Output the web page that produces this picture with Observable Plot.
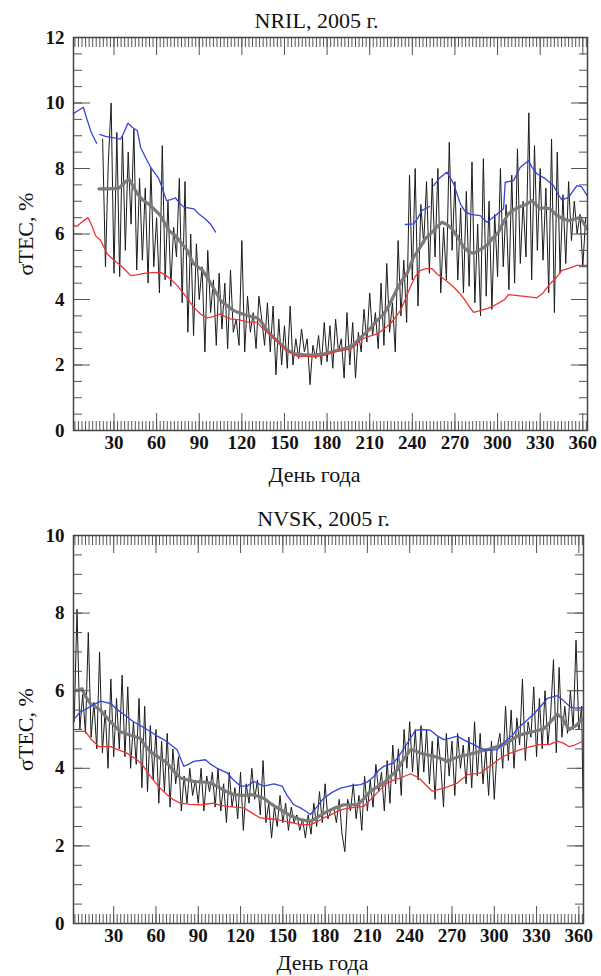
<!DOCTYPE html>
<html>
<head>
<meta charset="utf-8">
<script src="https://cdn.jsdelivr.net/npm/d3@7"></script>
<script src="https://cdn.jsdelivr.net/npm/@observablehq/plot@0.6"></script>
<style>
  html, body { margin: 0; padding: 0; background: #fff; }
  #chart svg { display: block; }
</style>
</head>
<body>
<div id="chart"></div>
<script>
// ---------- tick labels ----------
const xTicks = [30, 60, 90, 120, 150, 180, 210, 240, 270, 300, 330, 360];
const yTicksNril = [0, 2, 4, 6, 8, 10, 12];
const yTicksNvsk = [0, 2, 4, 6, 8, 10];
const xLabel = "День года";
const yLabel = "σTEC, %";
const titleNril = "NRIL, 2005 г.";
const titleNvsk = "NVSK, 2005 г.";

// ---------- NRIL ----------
const nrilDaily = [[22,8.9],[24,5.0],[26,8.2],[28,10.0],[30,4.8],[32,9.1],[34,4.7],[36,9.0],[38,5.5],[40,8.5],
[42,6.3],[44,9.2],[46,4.9],[48,7.7],[50,5.2],[52,7.4],[54,4.5],[56,8.0],[58,5.0],[60,6.5],
[62,4.2],[64,8.7],[66,4.6],[68,7.0],[70,4.4],[72,6.2],[74,5.3],[76,7.7],[78,3.9],[80,7.6],
[82,3.0],[84,6.0],[86,2.9],[88,5.7],[90,4.0],[92,5.0],[94,2.4],[96,5.5],[98,3.6],[100,4.6],
[102,2.6],[104,4.8],[106,3.1],[108,4.5],[110,2.5],[112,4.9],[114,3.0],[116,3.4],[118,2.6],[120,5.8],
[122,2.4],[124,4.1],[126,3.0],[128,3.6],[130,2.5],[132,4.1],[134,3.4],[136,2.6],[138,3.9],[140,2.4],
[142,3.8],[144,1.7],[146,3.4],[148,2.0],[150,3.2],[152,1.9],[154,3.8],[156,2.0],[158,2.8],[160,2.2],
[162,3.1],[164,2.4],[166,2.8],[168,1.4],[170,2.6],[172,2.2],[174,2.9],[176,2.0],[178,3.3],[180,2.1],
[182,3.2],[184,1.9],[186,3.4],[188,2.4],[190,2.8],[192,1.6],[194,3.6],[196,2.0],[198,3.3],[200,1.6],
[202,3.0],[204,2.4],[206,3.7],[208,2.7],[210,4.2],[212,2.9],[214,3.6],[216,2.5],[218,4.5],[220,2.6],
[222,5.1],[224,3.0],[226,3.9],[228,2.4],[230,5.8],[232,3.5],[234,5.2],[236,3.3],[238,7.8],[240,4.6],
[242,8.0],[244,3.8],[246,6.9],[248,5.7],[250,7.6],[252,4.8],[254,7.7],[256,5.3],[258,8.0],[260,4.2],
[262,6.2],[264,4.6],[266,8.8],[268,5.5],[270,7.6],[272,4.6],[274,6.8],[276,4.2],[278,7.3],[280,4.4],
[282,8.2],[284,3.9],[286,6.3],[288,3.5],[290,8.3],[292,4.1],[294,7.0],[296,3.7],[298,6.6],[300,4.7],
[302,8.0],[304,5.0],[306,6.9],[308,4.3],[310,7.8],[312,4.5],[314,8.6],[316,5.1],[318,7.0],[320,5.3],
[322,9.7],[324,4.6],[326,8.7],[328,5.5],[330,8.0],[332,5.2],[334,7.4],[336,4.2],[338,8.9],[340,3.6],
[342,8.5],[344,4.8],[346,7.2],[348,5.1],[350,7.6],[352,5.8],[354,7.0],[356,6.0],[358,6.6],[360,5.0],[362,6.5]];

const nrilMean = [[19.4,7.38],[26,7.38],[33.5,7.4],[37,7.55],[40.5,7.68],[43,7.5],[46.4,7.23],[50,7.05],[55.8,6.87],
[62.8,6.56],[68.6,6.11],[73.3,5.95],[77,5.75],[81.6,5.5],[86,5.09],[92.1,4.9],[95.6,4.68],[100,4.35],[105,3.97],
[110,3.8],[114.3,3.66],[119,3.58],[123.8,3.51],[130.8,3.44],[134,3.3],[137.8,3.05],[142,2.85],[147,2.65],[152,2.45],
[157,2.35],[163,2.32],[170,2.3],[177,2.33],[185,2.42],[192,2.5],[198,2.6],[204,2.85],[210,3.1],[215,3.35],[220,3.56],
[224,3.85],[229,4.3],[233,4.6],[236.3,4.8],[241,5.3],[245.6,5.6],[249,5.85],[252.7,6.0],[257,6.2],[260.9,6.36],[264,6.3],
[267.9,6.16],[272,5.9],[276.1,5.6],[280,5.45],[283.1,5.41],[287,5.5],[292.5,5.65],[296,5.85],[300.7,6.06],[304,6.35],
[307.7,6.62],[312,6.75],[316,6.84],[320,6.9],[324.2,7.02],[327,6.9],[330,6.77],[333,6.8],[337,6.77],[341,6.6],
[344.1,6.51],[347,6.45],[350,6.41],[354,6.45],[358.2,6.51],[362.9,6.16]];

const nrilLower = [[1.4,6.26],[3.7,6.23],[7,6.35],[11.7,6.5],[14,6.3],[17,5.95],[20.6,5.8],[25.3,5.39],[30,5.2],
[34.7,5.04],[38,4.9],[41.7,4.73],[46,4.75],[51,4.8],[57,4.82],[62.8,4.83],[66,4.75],[69.8,4.63],[75,4.4],[79.2,4.17],
[83,3.95],[86.2,3.76],[91,3.55],[95.6,3.44],[100,3.48],[105,3.56],[108,3.48],[112,3.41],[118,3.38],[123.8,3.31],
[130.8,3.31],[134,3.15],[137.8,3.0],[141,2.9],[144.9,2.77],[148,2.6],[151.9,2.44],[156,2.32],[160,2.26],[165,2.27],
[170,2.25],[175,2.27],[180,2.32],[184.7,2.39],[190,2.44],[196.4,2.49],[200,2.6],[203.4,2.77],[209,2.87],[215.2,2.95],
[220,3.1],[224.5,3.26],[228,3.45],[231.6,3.66],[235,4.0],[238.6,4.38],[242,4.7],[245.6,4.89],[250,4.94],[253.9,4.94],
[257.4,4.78],[263,4.6],[269.1,4.38],[273,4.2],[277.3,3.97],[280,3.78],[283.1,3.61],[287,3.65],[292.5,3.72],[297,3.8],
[301.9,3.92],[305,4.0],[307.7,4.15],[314,4.12],[320.7,4.09],[327.7,4.05],[332,4.2],[337,4.48],[341,4.65],[345.3,4.89],
[350,4.95],[355.8,5.04],[362.9,5.04]];

const nrilUpperA = [[1.4,9.67],[4,9.75],[8.4,9.87],[11,9.5],[14,9.1],[17.8,8.77]];
const nrilUpperB = [[20,9.04],[24,8.98],[28,8.95],[34.7,8.9],[37,9.1],[39.8,9.38],[43,9.25],[46.4,9.16],[48.7,8.65],
[52,8.35],[55.8,8.04],[61.6,7.68],[64,7.4],[67,7.02],[70,7.05],[73.3,7.1],[76,6.95],[79.2,6.82],[86.2,6.77],[90,6.6],
[94.4,6.46],[98,6.3],[101.5,6.06]];
const nrilUpperC = [[235.1,6.29],[241,6.31],[244,6.5],[246.8,6.72],[252.2,6.84]];
const nrilUpperD = [[255,7.48],[259,7.7],[264.4,7.89],[269.1,7.53],[273.8,6.92],[277,6.7],[280.8,6.6],[287.8,6.56],
[292.5,6.36],[298.4,6.56],[304.2,6.77],[305.4,7.58],[311.3,7.63],[316,8.04],[321.8,8.24],[324,8.05],[327.7,7.84],
[333.5,7.69],[339.4,7.48],[342,7.25],[345.3,7.04],[350,7.12],[355.8,7.48],[359,7.45],[362.9,7.18]];

// ---------- NVSK ----------
const nvskDaily = [[2,5.2],[4,8.1],[6,5.0],[8,5.9],[10,4.9],[12,7.5],[14,4.8],[16,5.7],[18,4.5],[20,7.0],
[22,4.4],[24,5.5],[26,4.0],[28,6.3],[30,4.3],[32,5.8],[34,4.5],[36,6.4],[38,4.3],[40,6.1],
[42,4.0],[44,5.2],[46,4.1],[48,5.8],[50,3.5],[52,5.6],[54,3.4],[56,5.1],[58,3.7],[60,5.0],
[62,3.1],[64,4.7],[66,3.4],[68,4.9],[70,3.0],[72,4.5],[74,3.6],[76,4.3],[78,2.9],[80,3.8],
[82,3.1],[84,4.0],[86,3.3],[88,3.7],[90,3.1],[92,4.0],[94,2.9],[96,3.8],[98,3.4],[100,3.9],
[102,3.0],[104,4.0],[106,2.9],[108,3.6],[110,2.6],[112,3.9],[114,3.0],[116,3.5],[118,2.7],[120,3.9],
[122,2.4],[124,3.6],[126,3.1],[128,4.0],[130,3.2],[132,3.7],[134,2.8],[136,4.2],[138,2.6],[140,3.1],
[142,2.2],[144,3.0],[146,2.5],[148,3.3],[150,2.6],[152,3.1],[154,2.4],[156,3.0],[158,2.6],[160,2.8],
[162,2.4],[164,2.7],[166,2.2],[168,2.8],[170,2.3],[172,3.1],[174,2.5],[176,3.4],[178,2.6],[180,3.6],
[182,2.7],[184,2.9],[186,3.0],[188,2.6],[190,3.2],[192,2.3],[194,1.85],[196,3.2],[198,2.9],[200,3.6],
[202,2.7],[204,3.3],[206,2.4],[208,3.8],[210,2.9],[212,3.7],[214,3.0],[216,4.1],[218,3.4],[220,3.9],
[222,2.9],[224,4.2],[226,3.1],[228,4.6],[230,3.6],[232,4.5],[234,3.3],[236,5.0],[238,4.0],[240,5.2],
[242,3.9],[244,5.0],[246,3.7],[248,5.1],[250,3.9],[252,5.0],[254,3.6],[256,4.7],[258,3.2],[260,4.8],
[262,4.1],[264,3.0],[266,4.9],[268,3.8],[270,4.7],[272,3.3],[274,4.9],[276,4.0],[278,4.6],[280,3.6],
[282,4.8],[284,3.5],[286,5.2],[288,3.8],[290,4.9],[292,3.6],[294,4.5],[296,3.3],[298,4.7],[300,3.2],
[302,4.5],[304,4.9],[306,4.0],[308,5.6],[310,4.2],[312,5.5],[314,4.0],[316,5.3],[318,4.6],[320,6.3],
[322,4.2],[324,5.2],[326,4.8],[328,6.1],[330,4.3],[332,5.8],[334,4.5],[336,6.0],[338,4.6],[340,5.4],
[342,6.8],[344,4.4],[346,6.6],[348,4.8],[350,5.6],[352,4.9],[354,6.0],[356,5.0],[358,7.3],[360,5.0],
[362,5.6],[363,3.0]];

const nvskMean = [[2.8,6.0],[7.6,6.05],[10,5.85],[13.5,5.67],[20.6,5.5],[24,5.35],[27.7,5.2],[34.8,4.94],[42,4.85],
[49,4.77],[52,4.6],[56,4.43],[62,4.28],[67.9,4.14],[72,3.95],[77.4,3.75],[86.8,3.66],[96.3,3.64],[101,3.58],
[105.7,3.49],[110,3.4],[115.2,3.32],[122,3.3],[129.4,3.32],[136.5,3.23],[141,3.1],[146,2.98],[151,2.88],[155.4,2.78],
[162.5,2.68],[169.6,2.63],[175,2.75],[181.5,2.89],[187,2.98],[193.3,3.06],[202.8,3.06],[207,3.2],[212.2,3.41],
[217,3.52],[221.6,3.62],[226,3.78],[231.2,3.96],[236,4.25],[240.6,4.48],[244,4.45],[247.7,4.39],[252,4.35],
[257.2,4.31],[262,4.25],[266.6,4.18],[271,4.25],[276.1,4.31],[281,4.35],[285.5,4.39],[290,4.44],[295,4.48],
[301,4.55],[306.8,4.61],[311,4.7],[316.3,4.83],[322,4.9],[328,4.95],[335.2,5.02],[340,5.2],[344.7,5.4],[348,5.3],
[353,5.0],[358,5.1],[362.5,5.27]];

const nvskLower = [[2.8,4.95],[9.9,4.95],[14,4.75],[19.4,4.56],[27.7,4.56],[33,4.48],[39.5,4.39],[46.6,4.22],[50,4.1],
[53.7,3.92],[57,3.75],[60.8,3.58],[64,3.45],[67.9,3.32],[72,3.2],[77.4,3.1],[84,3.07],[91.5,3.06],[96,3.08],[101,3.1],
[105,3.05],[110.5,3.02],[116,3.0],[122.3,2.98],[128,2.85],[134.1,2.72],[140,2.7],[146,2.68],[152,2.63],[157.8,2.59],
[162.5,2.55],[169.6,2.55],[174,2.62],[179,2.72],[184,2.8],[188.6,2.89],[193,2.95],[198,2.98],[207.5,3.02],[211,3.15],
[214.6,3.28],[219,3.45],[224,3.62],[229,3.7],[233.5,3.75],[240.6,3.86],[244,3.8],[247.7,3.71],[252,3.55],[256,3.41],
[260,3.45],[264.2,3.49],[269,3.55],[273.7,3.62],[277,3.72],[280.8,3.83],[290.3,3.88],[294,3.98],[298.6,4.1],[302,4.2],
[306.8,4.31],[312,4.4],[318.6,4.48],[325,4.55],[331.9,4.61],[339,4.61],[345,4.7],[349,4.65],[353,4.56],[357,4.6],
[362.5,4.69]];

const nvskUpper = [[2.8,5.3],[6,5.45],[10,5.52],[15,5.62],[20.6,5.73],[27.7,5.67],[33,5.5],[38.3,5.36],[44,5.2],
[49,5.1],[56,4.95],[60,4.85],[65.5,4.74],[70,4.62],[75,4.48],[79.7,4.05],[83,4.1],[86.8,4.18],[95.1,4.22],[99,4.1],
[103.4,4.0],[110.5,3.88],[115,3.7],[120,3.54],[124.7,3.54],[129.4,3.66],[133,3.6],[136.5,3.54],[143.6,3.6],
[149.5,3.54],[153,3.3],[157.8,3.06],[162.5,2.98],[166,2.9],[169.6,2.81],[174,3.0],[179,3.23],[185,3.38],[190.9,3.49],
[198,3.55],[205.1,3.58],[210,3.65],[214.6,3.79],[218,3.95],[221.6,4.05],[228.7,4.14],[233,4.35],[238.3,4.65],
[244.1,4.98],[249,5.0],[254.8,4.98],[259,4.85],[264.2,4.74],[269,4.78],[273.7,4.83],[279,4.72],[285.5,4.61],
[290,4.52],[295,4.46],[302.1,4.48],[305,4.6],[309.2,4.74],[313,4.85],[316.3,5.02],[322,5.2],[328.1,5.4],[333,5.6],
[337.6,5.8],[344.7,5.87],[349,5.75],[354.2,5.57],[358,5.55],[362.5,5.56]];

// ---------- drawing ----------
const FONT = "'Liberation Serif', 'DejaVu Serif', serif";
const xMinor = d3.range(2.5, 363, 2.5);
const X = d => d[0], Y = d => d[1];

function panel({title, daily, mean, lower, uppers, yMax, yTicks, mt, mb, mr, height, titleDx, labelDx, labelDy}) {
  const yMinor = d3.range(0, yMax + 0.01, 0.5);
  const axisStroke = "#555";
  const noText = () => "";
  return Plot.plot({
    width: 601, height,
    marginLeft: 73, marginRight: mr, marginTop: mt, marginBottom: mb,
    x: {domain: [1.5, 363.3], axis: null},
    y: {domain: [0, yMax], axis: null},
    style: {fontFamily: FONT, background: "#fff", overflow: "visible"},
    marks: [
      // data
      Plot.line(daily, {x: X, y: Y, stroke: "#1b1b1b", strokeWidth: 1}),
      Plot.line(mean, {x: X, y: Y, stroke: "#7a7a7a", strokeWidth: 3.2}),
      Plot.line(lower, {x: X, y: Y, stroke: "#ec3434", strokeWidth: 1.3}),
      ...uppers.map(u => Plot.line(u, {x: X, y: Y, stroke: "#3444dc", strokeWidth: 1.3})),
      // ticks (inward)
      Plot.axisX(xMinor, {anchor: "bottom", tickSize: -9, tickFormat: noText, label: null, stroke: axisStroke}),
      Plot.axisX(xTicks, {anchor: "bottom", tickSize: -17, tickFormat: noText, label: null, stroke: axisStroke}),
      Plot.axisX(xMinor, {anchor: "top", tickSize: -9, tickFormat: noText, label: null, stroke: axisStroke}),
      Plot.axisX(xTicks, {anchor: "top", tickSize: -17, tickFormat: noText, label: null, stroke: axisStroke}),
      Plot.axisY(yMinor, {anchor: "left", tickSize: -9, tickFormat: noText, label: null, stroke: axisStroke}),
      Plot.axisY(yTicks, {anchor: "left", tickSize: -17, tickFormat: noText, label: null, stroke: axisStroke}),
      Plot.axisY(yMinor, {anchor: "right", tickSize: -9, tickFormat: noText, label: null, stroke: axisStroke}),
      Plot.axisY(yTicks, {anchor: "right", tickSize: -17, tickFormat: noText, label: null, stroke: axisStroke}),
      // tick labels
      Plot.axisX(xTicks, {anchor: "bottom", tickSize: 0, tickPadding: 5, label: null, fontSize: 19, fontWeight: "bold", fill: "#111"}),
      Plot.axisY(yTicks, {anchor: "left", tickSize: 0, tickPadding: 9, label: null, fontSize: 19, fontWeight: "bold", fill: "#111"}),
      Plot.frame({stroke: "#444", strokeWidth: 1.5}),
      // texts
      Plot.text([title], {frameAnchor: "top", dy: -17, dx: titleDx, fontSize: 22, lineAnchor: "middle", fill: "#111"}),
      Plot.text([xLabel], {frameAnchor: "bottom", dy: labelDy, dx: labelDx, fontSize: 22, lineAnchor: "middle", fill: "#111"}),
      Plot.text([yLabel], {frameAnchor: "left", dx: -48, rotate: -90, fontSize: 22, lineAnchor: "middle", textAnchor: "middle", fill: "#111"})
    ]
  });
}

const chart = document.getElementById("chart");
chart.append(panel({
  title: titleNril, daily: nrilDaily, mean: nrilMean, lower: nrilLower,
  uppers: [nrilUpperA, nrilUpperB, nrilUpperC, nrilUpperD],
  yMax: 12, yTicks: yTicksNril, mt: 37, mb: 58, mr: 14, height: 488,
  titleDx: -14, labelDx: -16, labelDy: 44
}));
chart.append(panel({
  title: titleNvsk, daily: nvskDaily, mean: nvskMean, lower: nvskLower,
  uppers: [nvskUpper],
  yMax: 10, yTicks: yTicksNvsk, mt: 47, mb: 53, mr: 18, height: 488,
  titleDx: -5, labelDx: -6, labelDy: 39
}));
</script>
</body>
</html>
